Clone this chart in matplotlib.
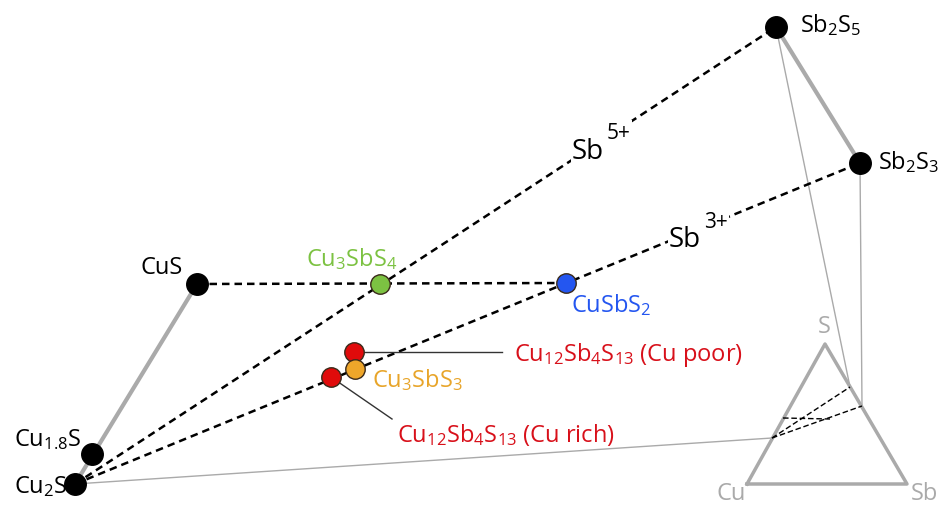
import matplotlib.pyplot as plt

plt.rcParams["font.family"] = ["Open Sans", "DejaVu Sans"]
plt.rcParams["mathtext.fontset"] = "custom"
plt.rcParams["mathtext.rm"] = "Open Sans"
plt.rcParams["mathtext.it"] = "Open Sans"

# compound positions on the schematic (picture coordinates)
compounds = ["Cu2S", "Cu1.8S", "CuS", "Sb2S5", "Sb2S3",
             "Cu3SbS4", "CuSbS2", "Cu12Sb4S13_poor", "Cu3SbS3", "Cu12Sb4S13_rich"]
comp_x = [75, 92, 197, 776, 860, 380, 566, 354, 355, 331]
comp_y = [485, 455, 285, 28, 164, 285, 284, 353, 370, 378]
comp_colors = ["black", "black", "black", "black", "black",
               "#7cc242", "#2456f0", "#e00b0b", "#eea62a", "#e00b0b"]

# ternary inset Cu-S-Sb
tri_names = ["Cu", "S", "Sb"]
tri_x = [747, 825, 907]
tri_y = [485, 345, 485]
# projected points inside the inset
proj_names = ["Cu2S", "CuS", "CuSbS2", "Sb2S5", "Sb2S3"]
proj_x = [772, 783, 830, 850, 862]
proj_y = [439, 419, 420, 388, 407]

pos = dict(zip(compounds, zip(comp_x, comp_y)))
ppos = dict(zip(proj_names, zip(proj_x, proj_y)))

fig = plt.figure(figsize=(9.4, 5.06), dpi=100)
ax = fig.add_axes([0, 0, 1, 1])
ax.set_xlim(0, 940)
ax.set_ylim(506, 0)
ax.axis("off")

gray = "#aaaaaa"

# thick gray tie lines
for a, b in [("Cu2S", "CuS"), ("Sb2S5", "Sb2S3")]:
    ax.plot([pos[a][0], pos[b][0]], [pos[a][1], pos[b][1]], color=gray, lw=3, zorder=1)

# thin gray projection lines into the inset
for name in ["Cu2S", "Sb2S5", "Sb2S3"]:
    ax.plot([pos[name][0], ppos[name][0]], [pos[name][1], ppos[name][1]],
            color=gray, lw=1, zorder=1)

# dashed black lines
for a, b in [("Cu2S", "Sb2S5"), ("Cu2S", "Sb2S3"), ("CuS", "CuSbS2")]:
    ax.plot([pos[a][0], pos[b][0]], [pos[a][1], pos[b][1]],
            color="black", lw=1.8, ls=(0, (3, 2)), zorder=2)

# inset triangle
ax.plot(tri_x + [tri_x[0]], tri_y + [tri_y[0]], color=gray, lw=2.5, zorder=1)
for a, b in [("Cu2S", "Sb2S5"), ("Cu2S", "Sb2S3"), ("CuS", "CuSbS2")]:
    ax.plot([ppos[a][0], ppos[b][0]], [ppos[a][1], ppos[b][1]],
            color="black", lw=1, ls=(0, (4, 2)), zorder=2)
ax.text(731, 494, "Cu", color=gray, fontsize=17, ha="center", va="center")
ax.text(824, 327, "S", color=gray, fontsize=17, ha="center", va="center")
ax.text(925, 494, "Sb", color=gray, fontsize=17, ha="center", va="center")

# leader lines for the tetrahedrite labels
ax.plot([pos["Cu12Sb4S13_poor"][0], 502], [pos["Cu12Sb4S13_poor"][1], 353],
        color="#333333", lw=1, zorder=2)
ax.plot([pos["Cu12Sb4S13_rich"][0], 392], [pos["Cu12Sb4S13_rich"][1], 420],
        color="#333333", lw=1, zorder=2)

# markers
for name, c in zip(compounds, comp_colors):
    x, y = pos[name]
    if c == "black":
        ax.plot(x, y, "o", ms=15.5, color="black", zorder=5)
    else:
        ax.plot(x, y, "o", ms=14, color=c, mec="#3a2a1a", mew=1, zorder=5)

# labels
fs = 17
ax.text(800, 25, r"Sb$_2$S$_5$", fontsize=fs, ha="left", va="center")
ax.text(878, 162, r"Sb$_2$S$_3$", fontsize=fs, ha="left", va="center")
ax.text(183, 268, "CuS", fontsize=fs, ha="right", va="center")
ax.text(81, 440, r"Cu$_{1.8}$S", fontsize=fs, ha="right", va="center")
ax.text(67, 487, r"Cu$_2$S", fontsize=fs, ha="right", va="center")
ax.text(352, 259, r"Cu$_3$SbS$_4$", fontsize=fs, color="#7cc242", ha="center", va="center")
ax.text(571, 305, r"CuSbS$_2$", fontsize=fs, color="#2456f0", ha="left", va="center")
ax.text(514, 355, r"Cu$_{12}$Sb$_4$S$_{13}$ (Cu poor)", fontsize=fs, color="#d8101a",
        ha="left", va="center")
ax.text(372, 380, r"Cu$_3$SbS$_3$", fontsize=fs, color="#e8a52a", ha="left", va="center")
ax.text(397, 435, r"Cu$_{12}$Sb$_4$S$_{13}$ (Cu rich)", fontsize=fs, color="#d8101a",
        ha="left", va="center")

# oxidation state labels sit on white patches that cut the dashed lines
box = dict(facecolor="white", edgecolor="none", pad=1)
ax.text(572, 152, "Sb", fontsize=20, ha="left", va="center", bbox=box, zorder=3)
ax.text(607, 133, "5+", fontsize=15, ha="left", va="center", bbox=box, zorder=3)
ax.text(669, 240, "Sb", fontsize=20, ha="left", va="center", bbox=box, zorder=3)
ax.text(704, 222, "3+", fontsize=15, ha="left", va="center", bbox=box, zorder=3)

fig.savefig("out.png", dpi=100)
